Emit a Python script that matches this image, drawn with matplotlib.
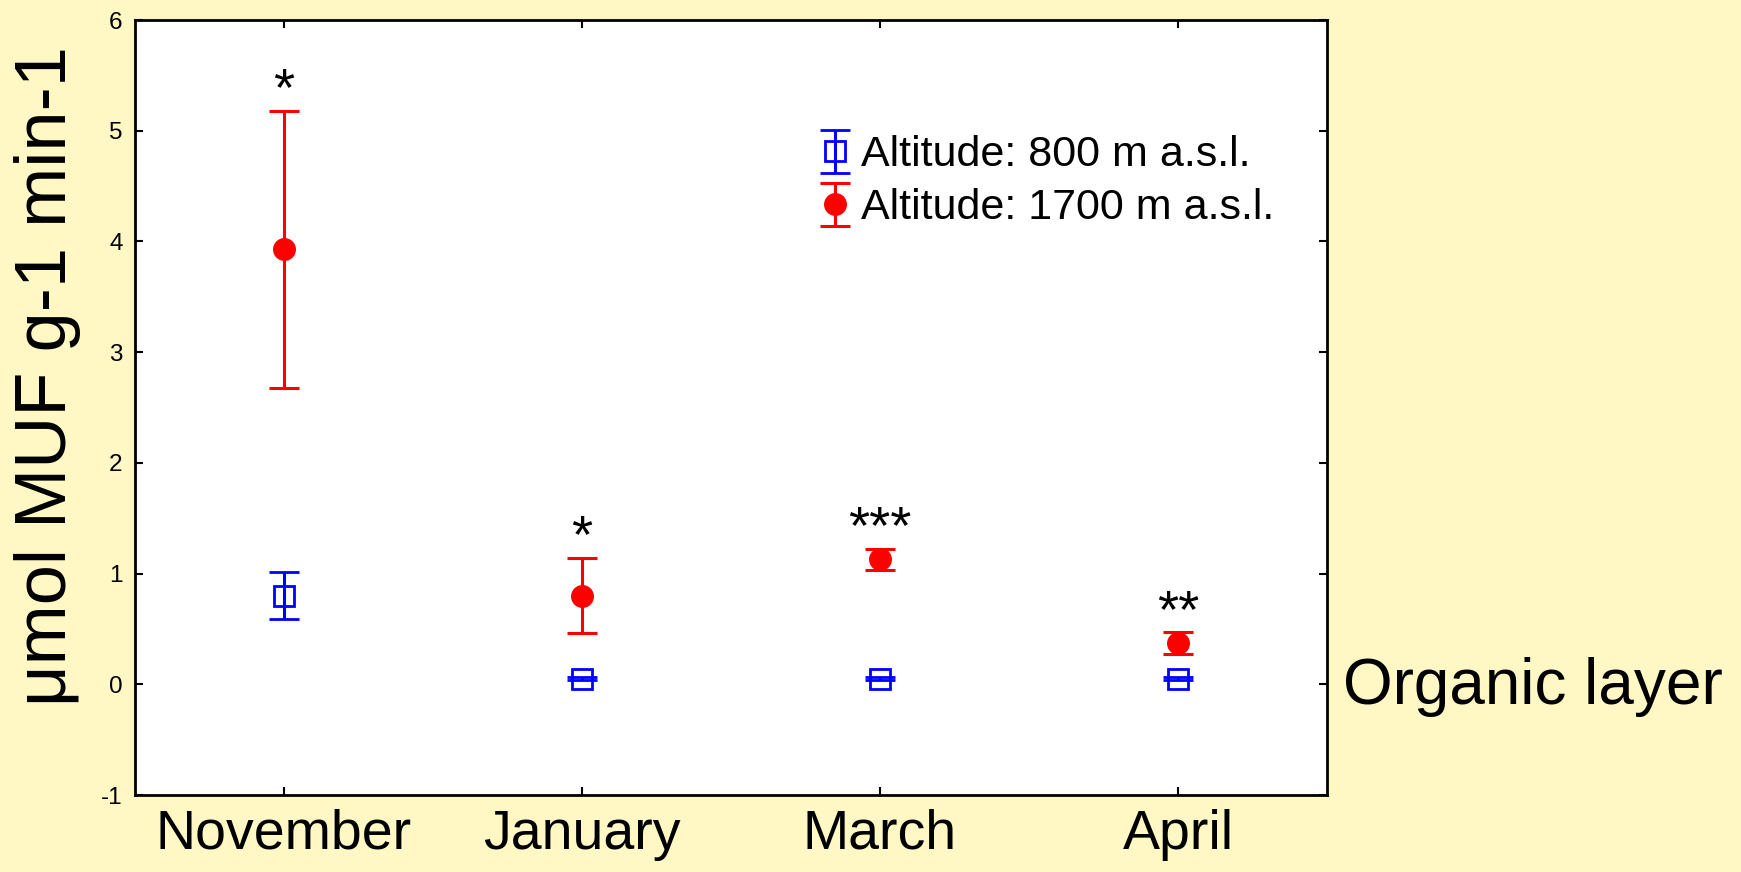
import matplotlib
matplotlib.use("Agg")
import matplotlib.pyplot as plt

plt.rcParams["font.family"] = ["Liberation Sans", "DejaVu Sans"]
plt.rcParams["axes.unicode_minus"] = False

# Sampling months and enzyme activity (mean ± error) at two altitudes
months = ["November", "January", "March", "April"]
low_mean = [0.80, 0.05, 0.05, 0.05]
low_err = [0.21, 0.015, 0.015, 0.015]
high_mean = [3.93, 0.80, 1.13, 0.37]
high_err = [1.25, 0.34, 0.095, 0.10]
significance = ["*", "*", "***", "**"]
series_labels = ["Altitude: 800 m a.s.l.", "Altitude: 1700 m a.s.l."]

bg = "#FFF7C4"
fig = plt.figure(figsize=(17.41, 8.72), dpi=100, facecolor=bg)
ax = fig.add_axes([135 / 1741, 1 - 795 / 872, 1192 / 1741, 775 / 872])
ax.set_facecolor("white")

x = list(range(1, len(months) + 1))

h_low = ax.errorbar(x, low_mean, yerr=low_err, fmt="s", color="#0000FF",
                    ms=15, mfc="none", mec="#0000FF", mew=2.0,
                    elinewidth=2.2, capsize=11, capthick=2.2,
                    label=series_labels[0], zorder=3)
h_high = ax.errorbar(x, high_mean, yerr=high_err, fmt="o", color="#FF0000",
                     ms=15.5, mfc="#FF0000", mec="#FF0000",
                     elinewidth=2.2, capsize=11, capthick=2.2,
                     label=series_labels[1], zorder=3)

# Significance marks sit just above the upper error cap
for xi, m, e, s in zip(x, high_mean, high_err, significance):
    ax.annotate(s, xy=(xi, m + e), xytext=(0, 4), textcoords="offset points",
                ha="center", va="baseline", fontsize=39)

ax.set_xlim(0.5, 4.5)
ax.set_ylim(-1, 6)
ax.set_xticks(x)
ax.set_xticklabels(months)
ax.set_yticks(range(-1, 7))

ax.tick_params(axis="both", direction="in", top=True, right=True,
               length=6, width=1.5)
ax.tick_params(axis="x", labelsize=40, pad=10)
ax.tick_params(axis="y", labelsize=17.5, pad=9)
for sp in ax.spines.values():
    sp.set_linewidth(2.0)

ax.set_ylabel("μmol MUF g-1 min-1", fontsize=52)
ax.yaxis.set_label_coords(-0.045, 0.541)

ax.legend(handles=[h_low, h_high], loc="upper left",
          bbox_to_anchor=(0.569, 0.851), frameon=False, fontsize=31,
          handlelength=1.0, handletextpad=0.1, labelspacing=0.30,
          borderpad=0, borderaxespad=0)

fig.text(1343 / 1741, 1 - 704 / 872, "Organic layer", fontsize=46,
         ha="left", va="baseline")

fig.savefig("out.png", dpi=100, facecolor=bg)
